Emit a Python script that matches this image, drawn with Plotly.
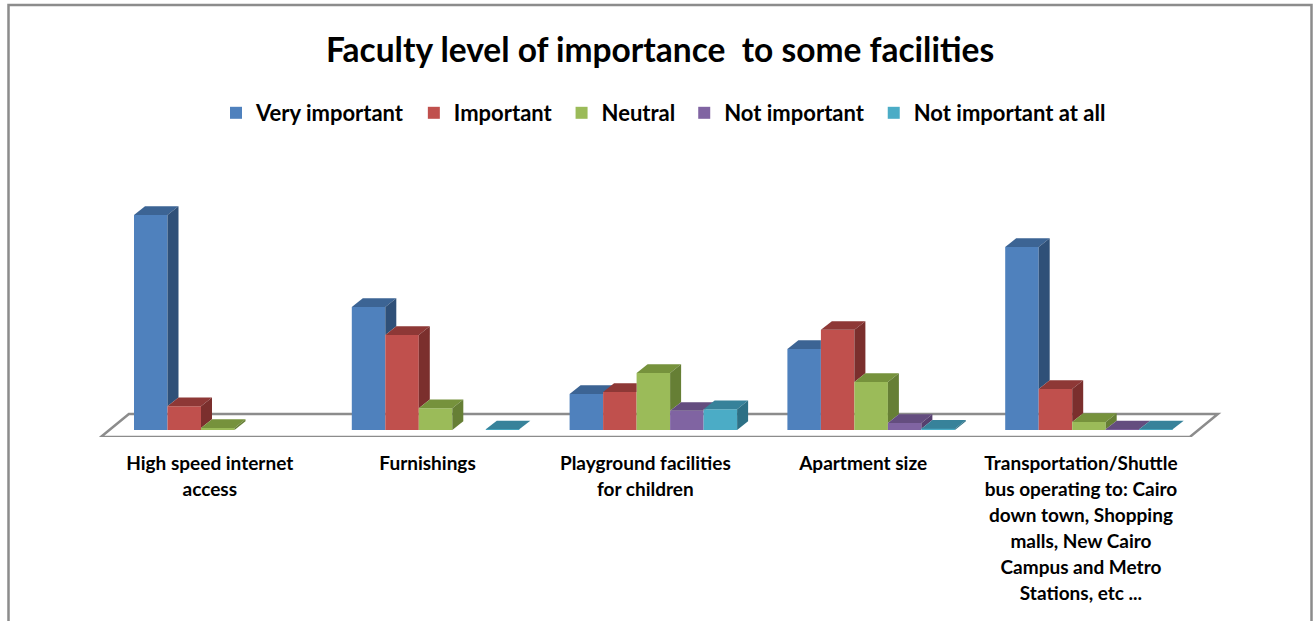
import plotly.graph_objects as go

categories = [
    "High speed internet<br>access",
    "Furnishings",
    "Playground facilities<br>for children",
    "Apartment size",
    "Transportation/Shuttle<br>bus operating to: Cairo<br>down town, Shopping<br>malls, New Cairo<br>Campus and Metro<br>Stations, etc ...",
]
very_important = [64.0, 36.6, 10.7, 24.1, 54.5]
important = [7.1, 28.3, 11.3, 29.8, 12.2]
neutral = [0.6, 6.5, 17.0, 14.3, 2.4]
not_important = [None, None, 5.7, 2.1, 0.2]
not_important_at_all = [None, 0.2, 6.2, 0.4, 0.2]

series_names = ["Very important", "Important", "Neutral", "Not important", "Not important at all"]
series_values = [very_important, important, neutral, not_important, not_important_at_all]
front_colors = ["#4F81BD", "#C0504D", "#9BBB59", "#8064A2", "#4BACC6"]
top_colors = ["#3C6494", "#8E3836", "#76923C", "#644D7F", "#37829A"]
side_colors = ["#2F5078", "#7B2F2D", "#667F35", "#553F6E", "#2D7085"]

FONT = "Lato"
W, H = 1313, 621
PX_X = 217.8
PX_Y = 3.36
X0_PX = 217.75
BASE_PX = 430
FLOOR_FRONT_PX = 437
bar_w = 33.5 / PX_X
dx = 11 / PX_X
dy = 8.7 / PX_Y
label_shift = -8 / PX_X


def py(p):
    """paper y for a pixel row of the page"""
    return (FLOOR_FRONT_PX - p) / FLOOR_FRONT_PX


fig = go.Figure()
for name, vals, c in zip(series_names, series_values, front_colors):
    fig.add_trace(go.Bar(name=name, x=list(range(len(categories))), y=vals, marker=dict(color=c, line=dict(width=0)), hoverinfo="name+y"))


def poly(xs, ys, color):
    fig.add_trace(go.Scatter(x=xs + xs[:1], y=ys + ys[:1], mode="lines", fill="toself", fillcolor=color,
                             line=dict(width=0, color=color), showlegend=False, hoverinfo="skip"))


n_s = len(series_values)
for g in range(len(categories)):
    for s in range(n_s):
        v = series_values[s][g]
        if v is None:
            continue
        L = g + (s - n_s / 2) * bar_w
        R = L + bar_w
        nxt = series_values[s + 1][g] if s + 1 < n_s else None
        v2 = nxt if nxt is not None else 0
        # top face, trimmed where the next bar's front hides it
        if v2 <= v:
            xs, ys = [L, L + dx, R + dx, R], [v, v + dy, v + dy, v]
        elif v2 >= v + dy:
            xs, ys = [L, L + dx, R, R], [v, v + dy, v + dy, v]
        else:
            t = (v2 - v) / dy
            xs, ys = [L, L + dx, R + dx, R + dx * t, R, R], [v, v + dy, v + dy, v2, v2, v]
        poly(xs, ys, top_colors[s])
        # side face above the next bar
        if v > v2:
            poly([R, R + dx, R + dx, R], [v2, v2 + dy, v + dy, v], side_colors[s])

floor_low = -(FLOOR_FRONT_PX - BASE_PX) / PX_Y
floor_high = 16 / PX_Y
fx0 = -0.5 + label_shift
fx1 = len(categories) - 0.5 + label_shift
fdx = 28 / PX_X

fig.update_layout(
    width=W, height=H,
    margin=dict(l=0, r=0, t=0, b=H - FLOOR_FRONT_PX, pad=0),
    paper_bgcolor="white", plot_bgcolor="rgba(0,0,0,0)",
    barmode="group", bargap=1 - n_s * bar_w, bargroupgap=0,
    title=dict(text="<b>Faculty level of importance  to some facilities</b>", x=660 / W, xanchor="center",
               y=1 - 50 / H, yanchor="middle", font=dict(family=FONT, size=33.5, color="black")),
    legend=dict(orientation="h", x=212 / W, xanchor="left", y=py(113), yanchor="middle",
                font=dict(family=FONT, size=22, color="black", weight="bold"), traceorder="normal",
                bgcolor="rgba(0,0,0,0)", indentation=4),
    xaxis=dict(range=[-X0_PX / PX_X, (W - X0_PX) / PX_X], showgrid=False, zeroline=False, showline=False,
               ticks="", tickmode="array", tickvals=[i + label_shift for i in range(len(categories))],
               ticktext=["<b>" + "<br>".join('<span style="font-size:19px">%s</span>' % p for p in c.split("<br>")) + "</b>" for c in categories],
               tickfont=dict(family=FONT, size=20, color="black"), tickangle=0, ticklabelstandoff=12, automargin=False),
    yaxis=dict(range=[floor_low, BASE_PX / PX_Y], visible=False, showgrid=False, zeroline=False),
    shapes=[
        dict(type="path", xref="x", yref="y", layer="below",
             path=f"M {fx0} {floor_low} L {fx0 + fdx} {floor_high} L {fx1 + fdx} {floor_high} L {fx1} {floor_low} Z",
             fillcolor="white", line=dict(color="#8C8C8C", width=2.5)),
        dict(type="path", xref="paper", yref="paper", layer="above",
             path=f"M {8.5 / W} {py(H)} L {8.5 / W} {py(5)} L {1311.5 / W} {py(5)} L {1311.5 / W} {py(H)}",
             line=dict(color="#8C8C8C", width=2.5)),
    ],
)

fig.write_html("out.html", post_script="document.body.style.margin='0';", config={"displayModeBar": False})
